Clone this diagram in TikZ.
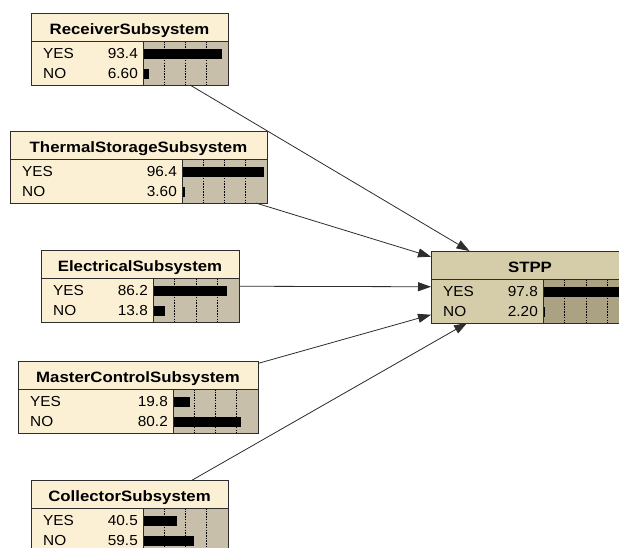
\documentclass[tikz,border=0pt]{standalone}
\usepackage{fontspec}
\usetikzlibrary{arrows.meta,fit}

\newfontfamily\titlefont{Liberation Sans}[FakeStretch=1.12]
\newfontfamily\bodyfont{Liberation Sans}[FakeStretch=1.06]

% node colours: n = ordinary node, d = highlighted (query) node
\definecolor{nbox}{RGB}{252,240,212}
\definecolor{nbar}{RGB}{200,191,170}
\definecolor{dbox}{RGB}{213,205,170}
\definecolor{dbar}{RGB}{171,162,132}
\definecolor{edge}{RGB}{45,45,45}

\tikzset{
  frame/.style={draw=edge, line width=0.9pt},
  gridline/.style={draw=black, line width=0.8pt, dash pattern=on 1.5pt off 1.2pt},
  titletext/.style={inner sep=0pt, anchor=base, font=\titlefont\bfseries\fontsize{15}{17}\selectfont},
  bodytext/.style={inner sep=0pt, font=\bodyfont\fontsize{14.5}{16}\selectfont},
  link/.style={draw=edge, line width=0.8pt, -{Triangle[length=13pt,width=9pt]}}
}

% #1 name, #2 left, #3 top, #4 right, #5 left of bar area,
% #6 title, #7 YES value, #8 NO value, #9 colour prefix
\newcommand\bnnode[9]{%
  \node[fit={(#2,#3) (#4,#3+72)}, inner sep=0pt, outer sep=0pt] (#1) {};
  \fill[#9box] (#2,#3) rectangle (#4,#3+72);
  \fill[#9bar] (#5,#3+28) rectangle (#4,#3+72);
  \foreach \k in {1,2,3}{\draw[gridline] ({#5+\k*(#4-#5)/4},#3+28) -- ++(0,44);}
  \fill[black] (#5,#3+35.5) rectangle ({#5+#7*(#4-#5)/100},#3+45.5);
  \fill[black] (#5,#3+55.5) rectangle ({#5+#8*(#4-#5)/100},#3+65.5);
  \draw[frame] (#2,#3) rectangle (#4,#3+72)
               (#2,#3+28) -- (#4,#3+28)
               (#5,#3+28) -- (#5,#3+72);
  \node[titletext] at ({(#2+#4)/2},#3+21) {#6};
  \node[bodytext, anchor=base west] at (#2+12,#3+45) {YES};
  \node[bodytext, anchor=base west] at (#2+12,#3+65) {NO};
  \node[bodytext, anchor=base east] at (#5-5,#3+45) {#7};
  \node[bodytext, anchor=base east] at (#5-5,#3+65) {#8};
}

\begin{document}
\begin{tikzpicture}[x=1pt, y=-1pt]
  \fill[white] (0,0) rectangle (619,547);
  \useasboundingbox (0,0) rectangle (619,547);
  \clip (0,0) rectangle (619,547);

  \bnnode{rcv}{31}{13}{228}{143}{ReceiverSubsystem}{93.4}{6.60}{n}
  \bnnode{tss}{10}{131}{267}{182}{ThermalStorageSubsystem}{96.4}{3.60}{n}
  \bnnode{ele}{41}{250}{239}{153}{ElectricalSubsystem}{86.2}{13.8}{n}
  \bnnode{mcs}{18}{361}{258}{173}{MasterControlSubsystem}{19.8}{80.2}{n}
  \bnnode{col}{31}{480}{228}{143}{CollectorSubsystem}{40.5}{59.5}{n}
  \bnnode{stpp}{431}{251}{629}{543}{STPP}{97.8}{2.20}{d}

  \draw[link] (rcv) -- (stpp);
  \draw[link] (tss) -- (stpp);
  \draw[link] (ele) -- (stpp);
  \draw[link] (mcs) -- (stpp);
  \draw[link] (col) -- (stpp);
\end{tikzpicture}
\end{document}
